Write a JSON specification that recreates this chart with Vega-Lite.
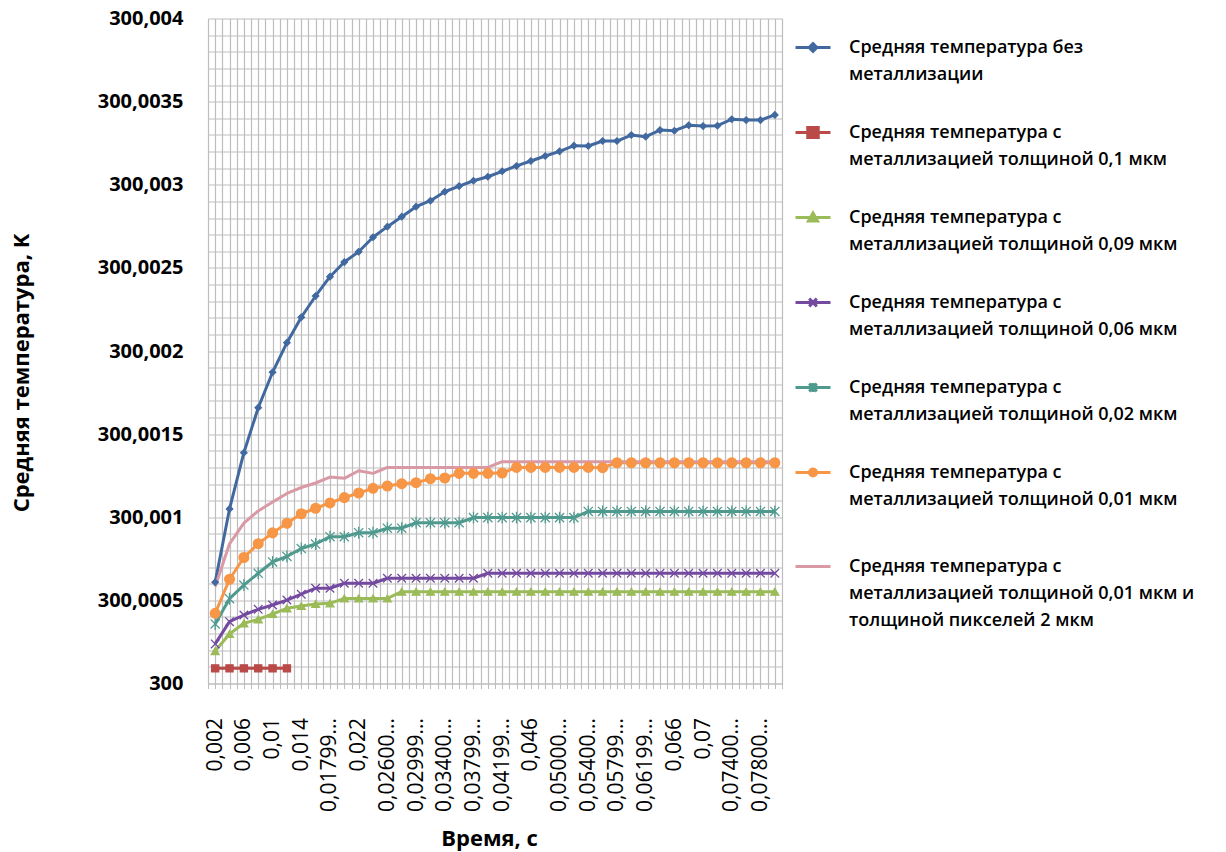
{
  "$schema": "https://vega.github.io/schema/vega-lite/v6.json",
  "width": 574,
  "height": 665,
  "autosize": {"type": "none"},
  "padding": {"left": 208, "top": 18.5, "right": 444, "bottom": 168.5},
  "background": "white",
  "config": {
    "view": {"stroke": null},
    "font": "Open Sans",
    "axis": {"labelFont": "Open Sans", "titleFont": "Open Sans", "labelColor": "#000000", "titleColor": "#000000"}
  },
  "datasets": {
    "names": [
      {"key": "b", "name": "Средняя температура без металлизации"},
      {"key": "m01", "name": "Средняя температура с металлизацией толщиной 0,1 мкм"},
      {"key": "m009", "name": "Средняя температура с металлизацией толщиной 0,09 мкм"},
      {"key": "m006", "name": "Средняя температура с металлизацией толщиной 0,06 мкм"},
      {"key": "m002", "name": "Средняя температура с металлизацией толщиной 0,02 мкм"},
      {"key": "m001", "name": "Средняя температура с металлизацией толщиной 0,01 мкм"},
      {"key": "m001p", "name": "Средняя температура с металлизацией толщиной 0,01 мкм и толщиной пикселей 2 мкм"}
    ],
    "temps": [
      {"t": 0.002, "b": 300.000609, "m01": 300.000091, "m009": 300.000195, "m006": 300.000238, "m002": 300.000358, "m001": 300.000422, "m001p": 300.000582},
      {"t": 0.004, "b": 300.00105, "m01": 300.000091, "m009": 300.000298, "m006": 300.000372, "m002": 300.00051, "m001": 300.000627, "m001p": 300.00084},
      {"t": 0.006, "b": 300.001388, "m01": 300.000091, "m009": 300.000362, "m006": 300.000412, "m002": 300.000592, "m001": 300.000758, "m001p": 300.000965},
      {"t": 0.008, "b": 300.001659, "m01": 300.000091, "m009": 300.000386, "m006": 300.000446, "m002": 300.000663, "m001": 300.000841, "m001p": 300.001038},
      {"t": 0.010, "b": 300.001872, "m01": 300.000091, "m009": 300.000418, "m006": 300.000472, "m002": 300.000731, "m001": 300.000906, "m001p": 300.001092},
      {"t": 0.012, "b": 300.00205, "m01": 300.000091, "m009": 300.000452, "m006": 300.000502, "m002": 300.000764, "m001": 300.000964, "m001p": 300.001143},
      {"t": 0.014, "b": 300.002203, "m009": 300.000466, "m006": 300.000537, "m002": 300.000812, "m001": 300.001021, "m001p": 300.001179},
      {"t": 0.016, "b": 300.002331, "m009": 300.000478, "m006": 300.000573, "m002": 300.000839, "m001": 300.001054, "m001p": 300.001206},
      {"t": 0.018, "b": 300.002447, "m009": 300.000482, "m006": 300.000573, "m002": 300.000883, "m001": 300.001086, "m001p": 300.001242},
      {"t": 0.020, "b": 300.002535, "m009": 300.000512, "m006": 300.000603, "m002": 300.000883, "m001": 300.001118, "m001p": 300.001234},
      {"t": 0.022, "b": 300.002597, "m009": 300.000512, "m006": 300.000603, "m002": 300.000907, "m001": 300.001146, "m001p": 300.00128},
      {"t": 0.024, "b": 300.002684, "m009": 300.000512, "m006": 300.000603, "m002": 300.000907, "m001": 300.001174, "m001p": 300.001264},
      {"t": 0.026, "b": 300.002748, "m009": 300.000512, "m006": 300.000633, "m002": 300.000934, "m001": 300.001188, "m001p": 300.0013},
      {"t": 0.028, "b": 300.002808, "m009": 300.000552, "m006": 300.000633, "m002": 300.000934, "m001": 300.001202, "m001p": 300.0013},
      {"t": 0.030, "b": 300.002868, "m009": 300.000552, "m006": 300.000633, "m002": 300.000967, "m001": 300.001208, "m001p": 300.0013},
      {"t": 0.032, "b": 300.002904, "m009": 300.000552, "m006": 300.000633, "m002": 300.000967, "m001": 300.001232, "m001p": 300.0013},
      {"t": 0.034, "b": 300.002958, "m009": 300.000552, "m006": 300.000633, "m002": 300.000967, "m001": 300.001236, "m001p": 300.0013},
      {"t": 0.036, "b": 300.002992, "m009": 300.000552, "m006": 300.000633, "m002": 300.000967, "m001": 300.001264, "m001p": 300.0013},
      {"t": 0.038, "b": 300.003024, "m009": 300.000552, "m006": 300.000633, "m002": 300.000998, "m001": 300.001264, "m001p": 300.0013},
      {"t": 0.040, "b": 300.003048, "m009": 300.000552, "m006": 300.000663, "m002": 300.000998, "m001": 300.001264, "m001p": 300.0013},
      {"t": 0.042, "b": 300.003081, "m009": 300.000552, "m006": 300.000663, "m002": 300.000998, "m001": 300.001266, "m001p": 300.001334},
      {"t": 0.044, "b": 300.003113, "m009": 300.000552, "m006": 300.000663, "m002": 300.000998, "m001": 300.0013, "m001p": 300.001334},
      {"t": 0.046, "b": 300.003143, "m009": 300.000552, "m006": 300.000663, "m002": 300.000998, "m001": 300.0013, "m001p": 300.001334},
      {"t": 0.048, "b": 300.003173, "m009": 300.000552, "m006": 300.000663, "m002": 300.000998, "m001": 300.0013, "m001p": 300.001334},
      {"t": 0.050, "b": 300.003201, "m009": 300.000552, "m006": 300.000663, "m002": 300.000998, "m001": 300.0013, "m001p": 300.001334},
      {"t": 0.052, "b": 300.003235, "m009": 300.000552, "m006": 300.000663, "m002": 300.000998, "m001": 300.0013, "m001p": 300.001334},
      {"t": 0.054, "b": 300.003233, "m009": 300.000552, "m006": 300.000663, "m002": 300.001035, "m001": 300.0013, "m001p": 300.001334},
      {"t": 0.056, "b": 300.003263, "m009": 300.000552, "m006": 300.000663, "m002": 300.001035, "m001": 300.001298, "m001p": 300.001334},
      {"t": 0.058, "b": 300.003263, "m009": 300.000552, "m006": 300.000663, "m002": 300.001035, "m001": 300.001328, "m001p": 300.001334},
      {"t": 0.060, "b": 300.003299, "m009": 300.000552, "m006": 300.000663, "m002": 300.001035, "m001": 300.001328, "m001p": 300.001334},
      {"t": 0.062, "b": 300.003289, "m009": 300.000552, "m006": 300.000663, "m002": 300.001035, "m001": 300.001328, "m001p": 300.001334},
      {"t": 0.064, "b": 300.003329, "m009": 300.000552, "m006": 300.000663, "m002": 300.001035, "m001": 300.001328, "m001p": 300.001334},
      {"t": 0.066, "b": 300.003325, "m009": 300.000552, "m006": 300.000663, "m002": 300.001035, "m001": 300.001328, "m001p": 300.001334},
      {"t": 0.068, "b": 300.003358, "m009": 300.000552, "m006": 300.000663, "m002": 300.001035, "m001": 300.001328, "m001p": 300.001334},
      {"t": 0.070, "b": 300.003353, "m009": 300.000552, "m006": 300.000663, "m002": 300.001035, "m001": 300.001328, "m001p": 300.001334},
      {"t": 0.072, "b": 300.003355, "m009": 300.000552, "m006": 300.000663, "m002": 300.001035, "m001": 300.001328, "m001p": 300.001334},
      {"t": 0.074, "b": 300.003394, "m009": 300.000552, "m006": 300.000663, "m002": 300.001035, "m001": 300.001328, "m001p": 300.001334},
      {"t": 0.076, "b": 300.003389, "m009": 300.000552, "m006": 300.000663, "m002": 300.001035, "m001": 300.001328, "m001p": 300.001334},
      {"t": 0.078, "b": 300.003389, "m009": 300.000552, "m006": 300.000663, "m002": 300.001035, "m001": 300.001328, "m001p": 300.001334},
      {"t": 0.080, "b": 300.00342, "m009": 300.000552, "m006": 300.000663, "m002": 300.001035, "m001": 300.001328, "m001p": 300.001334}
    ]
  },
  "data": {"name": "temps"},
  "transform": [
    {"fold": ["b", "m01", "m009", "m006", "m002", "m001", "m001p"], "as": ["key", "v"]},
    {"filter": "isValid(datum.v)"},
    {"lookup": "key", "from": {"data": {"name": "names"}, "key": "key", "fields": ["name"]}}
  ],
  "encoding": {
    "x": {
      "field": "t", "type": "quantitative",
      "scale": {"domain": [0.001, 0.081], "nice": false, "zero": false},
      "axis": {
        "values": [0.001,0.002,0.003,0.004,0.005,0.006,0.007,0.008,0.009,0.010,0.011,0.012,0.013,0.014,0.015,0.016,0.017,0.018,0.019,0.020,0.021,0.022,0.023,0.024,0.025,0.026,0.027,0.028,0.029,0.030,0.031,0.032,0.033,0.034,0.035,0.036,0.037,0.038,0.039,0.040,0.041,0.042,0.043,0.044,0.045,0.046,0.047,0.048,0.049,0.050,0.051,0.052,0.053,0.054,0.055,0.056,0.057,0.058,0.059,0.060,0.061,0.062,0.063,0.064,0.065,0.066,0.067,0.068,0.069,0.070,0.071,0.072,0.073,0.074,0.075,0.076,0.077,0.078,0.079,0.080,0.081],
        "labelExpr": "(round(datum.value*1000)%4==2 && round(datum.value*1000)<=78) ? ['0,002','0,006','0,01','0,014','0,01799...','0,022','0,02600...','0,02999...','0,03400...','0,03799...','0,04199...','0,046','0,05000...','0,05400...','0,05799...','0,06199...','0,066','0,07','0,07400...','0,07800...'][(round(datum.value*1000)-2)/4] : ''",
        "labelAngle": 270,
        "labelAlign": "right",
        "labelBaseline": "middle",
        "labelFontSize": 21,
        "labelPadding": 29,
        "labelOverlap": false,
        "labelFlush": false,
        "labelBound": false,
        "tickSize": 5,
        "tickColor": "#bdbdbd",
        "grid": true,
        "gridColor": "#bdbdbd",
        "gridWidth": 1.2,
        "domainColor": "#bdbdbd",
        "title": "Время, с",
        "titleFontSize": 22,
        "titleFontWeight": "bold",
        "titleX": 281,
        "titlePadding": 17
      }
    },
    "y": {
      "field": "v", "type": "quantitative",
      "scale": {"domain": [300, 300.004], "nice": false, "zero": false},
      "axis": {
        "values": [300,300.0001,300.0002,300.0003,300.0004,300.0005,300.0006,300.0007,300.0008,300.0009,300.001,300.0011,300.0012,300.0013,300.0014,300.0015,300.0016,300.0017,300.0018,300.0019,300.002,300.0021,300.0022,300.0023,300.0024,300.0025,300.0026,300.0027,300.0028,300.0029,300.003,300.0031,300.0032,300.0033,300.0034,300.0035,300.0036,300.0037,300.0038,300.0039,300.004],
        "labelExpr": "round((datum.value-300)*10000)%5==0 ? replace(format(datum.value,'.4~f'),'.',',') : ''",
        "labelFontSize": 20,
        "labelFontWeight": "bold",
        "labelPadding": 25,
        "labelOverlap": false,
        "labelFlush": false,
        "ticks": false,
        "grid": true,
        "gridColor": "#bdbdbd",
        "gridWidth": 1.2,
        "domainColor": "#bdbdbd",
        "title": "Средняя температура, K",
        "titleFontSize": 22,
        "titleFontWeight": "bold",
        "titleY": 354,
        "titlePadding": 64
      }
    },
    "color": {
      "field": "name", "type": "nominal",
      "scale": {
        "domain": ["Средняя температура без металлизации", "Средняя температура с металлизацией толщиной 0,1 мкм", "Средняя температура с металлизацией толщиной 0,09 мкм", "Средняя температура с металлизацией толщиной 0,06 мкм", "Средняя температура с металлизацией толщиной 0,02 мкм", "Средняя температура с металлизацией толщиной 0,01 мкм", "Средняя температура с металлизацией толщиной 0,01 мкм и толщиной пикселей 2 мкм"],
        "range": ["#4169a0", "#b94a48", "#9bbb59", "#7449a0", "#4f9a8f", "#f79646", "#d99aa6"]
      },
      "legend": {
        "title": null,
        "orient": "right",
        "offset": 2,
        "padding": 10,
        "symbolSize": 1225,
        "symbolStrokeWidth": 3,
        "labelFont": "Open Sans",
        "labelFontSize": 18,
        "labelFontWeight": 600,
        "labelColor": "#000000",
        "labelLimit": 600,
        "labelOffset": 17,
        "rowPadding": 30,
        "labelExpr": "indexof(datum.label,'без')>=0 ? ['Средняя температура без','металлизации'] : indexof(datum.label,'пикселей')>=0 ? ['Средняя температура с','металлизацией толщиной 0,01 мкм и','толщиной пикселей 2 мкм'] : ['Средняя температура с', replace(datum.label,'Средняя температура с ','')]",
        "encode": {
          "symbols": {
            "update": {
              "shape": {"signal": "indexof(datum.value,'без')>=0 ? 'M-1,0L1,0M0,-0.22L0.22,0L0,0.22L-0.22,0Z' : indexof(datum.value,'толщиной 0,1 ')>=0 ? 'M-1,0L1,0M-0.3,-0.28L0.3,-0.28L0.3,0.28L-0.3,0.28Z' : indexof(datum.value,'0,09')>=0 ? 'M-1,0L1,0M0,-0.26L0.26,0.2L-0.26,0.2Z' : indexof(datum.value,'0,06')>=0 ? 'M-1,0L1,0M-0.22,-0.22L0.22,0.22M-0.22,0.22L0.22,-0.22' : indexof(datum.value,'0,02')>=0 ? 'M-1,0L1,0M-0.22,-0.22L0.22,0.22M-0.22,0.22L0.22,-0.22M0,-0.26L0,0.26' : indexof(datum.value,'пикселей')>=0 ? 'M-1,0.51L1,0.51' : 'M-1,0L1,0M0.2,0A0.2,0.2 0 1,1 -0.2,0A0.2,0.2 0 1,1 0.2,0Z'"},
              "fill": {"scale": "color", "field": "value"},
              "stroke": {"scale": "color", "field": "value"},
              "strokeWidth": {"value": 3},
              "opacity": {"value": 1}
            }
          },
          "labels": {
            "update": {
              "lineHeight": {"value": 27},
              "dy": {"signal": "indexof(datum.value,'пикселей')>=0 ? 9 : 0"}
            }
          }
        }
      }
    }
  },
  "layer": [
    {
      "mark": {"type": "line", "strokeWidth": 3, "strokeJoin": "round"},
      "encoding": {}
    },
    {
      "transform": [{"filter": "datum.key != 'm001p'"}],
      "mark": {"type": "point", "filled": true, "strokeWidth": 1.3, "opacity": 1},
      "encoding": {
        "shape": {
          "field": "name", "type": "nominal", "legend": null,
          "scale": {
            "domain": ["Средняя температура без металлизации", "Средняя температура с металлизацией толщиной 0,1 мкм", "Средняя температура с металлизацией толщиной 0,09 мкм", "Средняя температура с металлизацией толщиной 0,06 мкм", "Средняя температура с металлизацией толщиной 0,02 мкм", "Средняя температура с металлизацией толщиной 0,01 мкм"],
            "range": ["diamond", "square", "triangle-up", "M-1,-1L1,1M-1,1L1,-1", "M-1,-1L1,1M-1,1L1,-1M0,-1.3L0,1.3", "circle"]
          }
        },
        "stroke": {
          "field": "name", "type": "nominal", "legend": null,
          "scale": {
            "domain": ["Средняя температура без металлизации", "Средняя температура с металлизацией толщиной 0,1 мкм", "Средняя температура с металлизацией толщиной 0,09 мкм", "Средняя температура с металлизацией толщиной 0,06 мкм", "Средняя температура с металлизацией толщиной 0,02 мкм", "Средняя температура с металлизацией толщиной 0,01 мкм"],
            "range": ["#4169a0", "#b94a48", "#9bbb59", "#7449a0", "#4f9a8f", "#f79646"]
          }
        },
        "size": {
          "field": "name", "type": "nominal", "legend": null,
          "scale": {
            "domain": ["Средняя температура без металлизации", "Средняя температура с металлизацией толщиной 0,1 мкм", "Средняя температура с металлизацией толщиной 0,09 мкм", "Средняя температура с металлизацией толщиной 0,06 мкм", "Средняя температура с металлизацией толщиной 0,02 мкм", "Средняя температура с металлизацией толщиной 0,01 мкм"],
            "range": [40, 95, 60, 64, 81, 45]
          }
        }
      }
    }
  ]
}
